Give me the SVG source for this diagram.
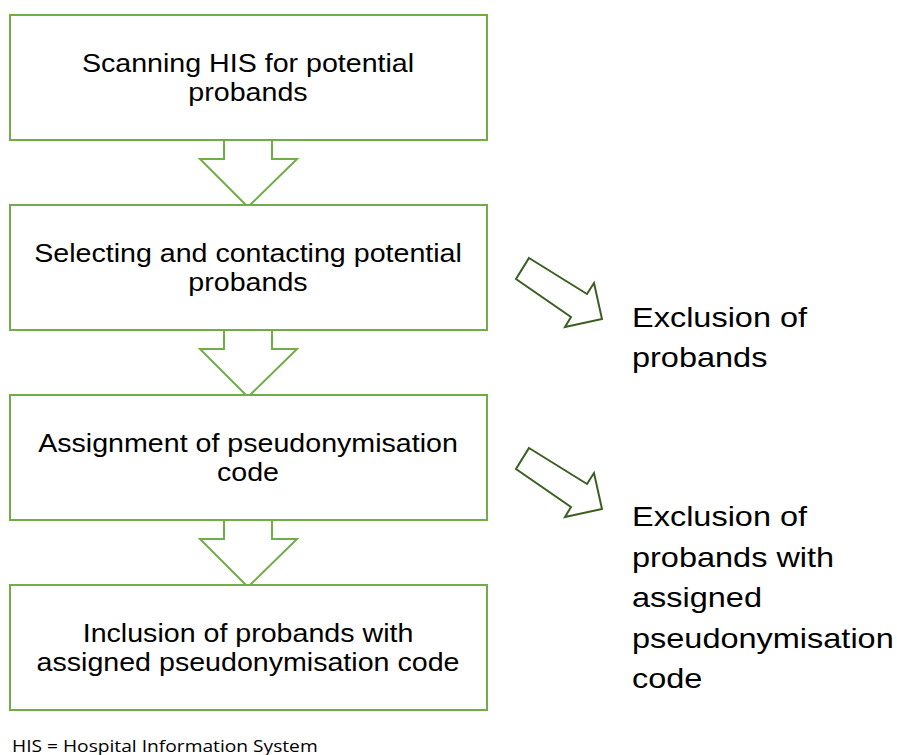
<svg xmlns="http://www.w3.org/2000/svg" width="897" height="755" viewBox="0 0 897 755">
  <style>
    .box { fill: #ffffff; stroke: #70ad47; stroke-width: 2; }
    .down { fill: #ffffff; stroke: #70ad47; stroke-width: 2; stroke-linejoin: miter; }
    .side { fill: #ffffff; stroke: #3b5e22; stroke-width: 2; stroke-linejoin: miter; }
    .lbl { font-family: "Liberation Sans", Arial, sans-serif; font-size: 26px; fill: #000000; text-anchor: middle; }
    .note { font-family: "Liberation Sans", Arial, sans-serif; font-size: 28px; fill: #000000; }
    .foot { font-family: "Open Sans", "Noto Sans", sans-serif; font-size: 16px; fill: #000000; }
  </style>
  <rect width="897" height="755" fill="#ffffff"/>

  <g id="connectors">
    <!-- block arrows between the process steps -->
    <path class="down" d="M224,140 V159 H200 L248,207 L297,159 H272 V140"/>
    <path class="down" d="M224,330 V349 H200 L248,397 L297,349 H272 V330"/>
    <path class="down" d="M224,520 V539 H200 L248,587 L297,539 H272 V520"/>
    <!-- exclusion arrows -->
    <polygon class="side" points="529,258 587,294 594,283 602,319 565,327 571,317 516,279"/>
    <polygon class="side" points="529,448 587,484 594,473 602,509 565,517 571,507 516,469"/>
  </g>

  <g id="step-scan">
    <rect class="box" x="10" y="15" width="477" height="125"/>
    <g transform="translate(248,0) scale(1.1,1)">
      <text class="lbl" x="0" y="72">Scanning HIS for potential</text>
      <text class="lbl" x="0" y="101">probands</text>
    </g>
  </g>

  <g id="step-select">
    <rect class="box" x="10" y="205" width="477" height="125"/>
    <g transform="translate(248,0) scale(1.1,1)">
      <text class="lbl" x="0" y="262">Selecting and contacting potential</text>
      <text class="lbl" x="0" y="291">probands</text>
    </g>
  </g>

  <g id="step-assign">
    <rect class="box" x="10" y="395" width="477" height="125"/>
    <g transform="translate(248,0) scale(1.1,1)">
      <text class="lbl" x="0" y="452">Assignment of pseudonymisation</text>
      <text class="lbl" x="0" y="481">code</text>
    </g>
  </g>

  <g id="step-include">
    <rect class="box" x="10" y="585" width="477" height="125"/>
    <g transform="translate(248,0) scale(1.1,1)">
      <text class="lbl" x="0" y="642">Inclusion of probands with</text>
      <text class="lbl" x="0" y="671">assigned pseudonymisation code</text>
    </g>
  </g>

  <g id="exclude-1" transform="translate(632,0) scale(1.16,1)">
    <text class="note" x="0" y="327">Exclusion of</text>
    <text class="note" x="0" y="367">probands</text>
  </g>

  <g id="exclude-2" transform="translate(632,0) scale(1.16,1)">
    <text class="note" x="0" y="526">Exclusion of</text>
    <text class="note" x="0" y="567">probands with</text>
    <text class="note" x="0" y="607">assigned</text>
    <text class="note" x="0" y="648">pseudonymisation</text>
    <text class="note" x="0" y="688">code</text>
  </g>

  <g id="legend" transform="translate(12,0) scale(1.2,1)">
    <text class="foot" x="0" y="752">HIS = Hospital Information System</text>
  </g>
</svg>
